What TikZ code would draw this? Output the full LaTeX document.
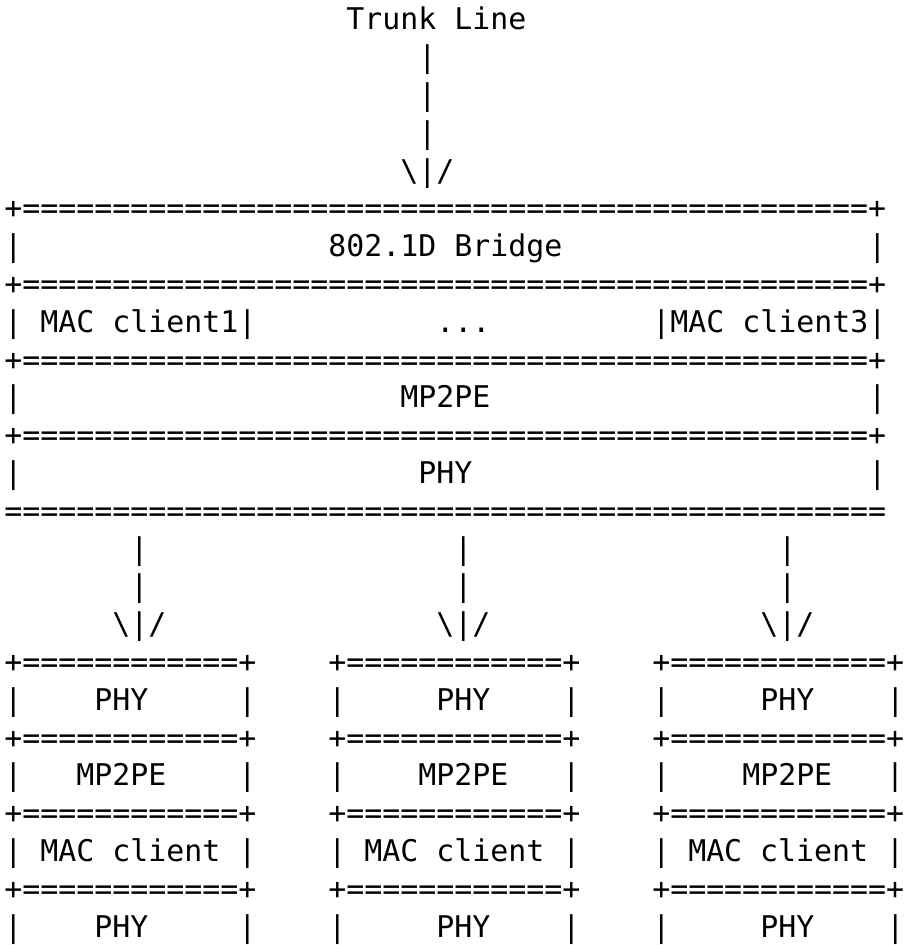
\documentclass[tikz,border=0pt]{standalone}
\usepackage{fontspec}
\newfontfamily\monofam{DejaVu Sans Mono}
\ExplSyntaxOn
\cs_new:Npn \Rep #1#2 { \prg_replicate:nn {#1} {#2} }
\ExplSyntaxOff
\newcommand\BoxTop{+\Rep{12}{=}+}
\newcommand\RowY[1]{-(#1-0.5)*37.8-10.9}
\tikzset{
  asciirow/.style={anchor=base west, inner sep=0pt, outer sep=0pt,
    font=\monofam\fontsize{29.89pt}{37.8pt}\selectfont, text=black}
}
\begin{document}
\begin{tikzpicture}[x=1pt,y=1pt]
\useasboundingbox (0,0) rectangle (905,-945);
\fill[white] (0,0) rectangle (905,-945);
\node[asciirow] (r1)  at (4.5,{\RowY{1}})  {\Rep{19}{~}Trunk~Line};
\node[asciirow] (r2)  at (4.5,{\RowY{2}})  {\Rep{23}{~}|};
\node[asciirow] (r3)  at (4.5,{\RowY{3}})  {\Rep{23}{~}|};
\node[asciirow] (r4)  at (4.5,{\RowY{4}})  {\Rep{23}{~}|};
\node[asciirow] (r5)  at (4.5,{\RowY{5}})  {\Rep{22}{~}\textbackslash|/};
\node[asciirow] (r6)  at (4.5,{\RowY{6}})  {+\Rep{47}{=}+};
\node[asciirow] (r7)  at (4.5,{\RowY{7}})  {|\Rep{17}{~}802.1D~Bridge\Rep{17}{~}|};
\node[asciirow] (r8)  at (4.5,{\RowY{8}})  {+\Rep{47}{=}+};
\node[asciirow] (r9)  at (4.5,{\RowY{9}})  {|~MAC~client1|\Rep{10}{~}...\Rep{9}{~}|MAC~client3|};
\node[asciirow] (r10) at (4.5,{\RowY{10}}) {+\Rep{47}{=}+};
\node[asciirow] (r11) at (4.5,{\RowY{11}}) {|\Rep{21}{~}MP2PE\Rep{21}{~}|};
\node[asciirow] (r12) at (4.5,{\RowY{12}}) {+\Rep{47}{=}+};
\node[asciirow] (r13) at (4.5,{\RowY{13}}) {|\Rep{22}{~}PHY\Rep{22}{~}|};
\node[asciirow] (r14) at (4.5,{\RowY{14}}) {\Rep{49}{=}};
\node[asciirow] (r15) at (4.5,{\RowY{15}}) {\Rep{7}{~}|\Rep{17}{~}|\Rep{17}{~}|};
\node[asciirow] (r16) at (4.5,{\RowY{16}}) {\Rep{7}{~}|\Rep{17}{~}|\Rep{17}{~}|};
\node[asciirow] (r17) at (4.5,{\RowY{17}}) {\Rep{6}{~}\textbackslash|/\Rep{15}{~}\textbackslash|/\Rep{15}{~}\textbackslash|/};
\node[asciirow] (r18) at (4.5,{\RowY{18}}) {\BoxTop\Rep{4}{~}\BoxTop\Rep{4}{~}\BoxTop};
\node[asciirow] (r19) at (4.5,{\RowY{19}}) {|\Rep{4}{~}PHY\Rep{5}{~}|\Rep{4}{~}|\Rep{5}{~}PHY\Rep{4}{~}|\Rep{4}{~}|\Rep{5}{~}PHY\Rep{4}{~}|};
\node[asciirow] (r20) at (4.5,{\RowY{20}}) {\BoxTop\Rep{4}{~}\BoxTop\Rep{4}{~}\BoxTop};
\node[asciirow] (r21) at (4.5,{\RowY{21}}) {|\Rep{3}{~}MP2PE\Rep{4}{~}|\Rep{4}{~}|\Rep{4}{~}MP2PE\Rep{3}{~}|\Rep{4}{~}|\Rep{4}{~}MP2PE\Rep{3}{~}|};
\node[asciirow] (r22) at (4.5,{\RowY{22}}) {\BoxTop\Rep{4}{~}\BoxTop\Rep{4}{~}\BoxTop};
\node[asciirow] (r23) at (4.5,{\RowY{23}}) {|~MAC~client~|\Rep{4}{~}|~MAC~client~|\Rep{4}{~}|~MAC~client~|};
\node[asciirow] (r24) at (4.5,{\RowY{24}}) {\BoxTop\Rep{4}{~}\BoxTop\Rep{4}{~}\BoxTop};
\node[asciirow] (r25) at (4.5,{\RowY{25}}) {|\Rep{4}{~}PHY\Rep{5}{~}|\Rep{4}{~}|\Rep{5}{~}PHY\Rep{4}{~}|\Rep{4}{~}|\Rep{5}{~}PHY\Rep{4}{~}|};
\end{tikzpicture}
\end{document}
